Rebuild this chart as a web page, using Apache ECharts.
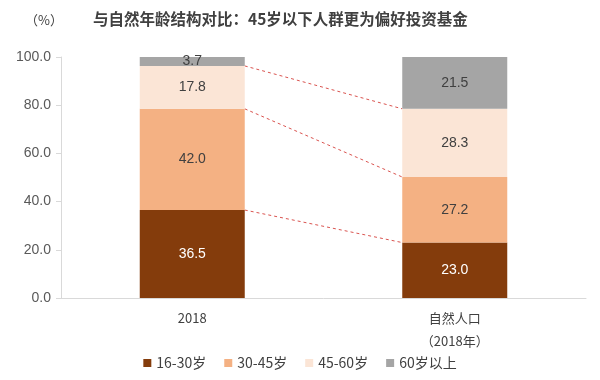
<!DOCTYPE html>
<html><head><meta charset="utf-8">
<script src="https://cdn.jsdelivr.net/npm/echarts@6/dist/echarts.min.js"></script>
<style>html,body{margin:0;padding:0;background:#fff}#c{width:600px;height:380px}</style>
</head><body><div id="c"></div>
<script>
const categories = ['2018', '自然人口\n（2018年）'];
const seriesNames = ['16-30岁', '30-45岁', '45-60岁', '60岁以上'];
const v1630 = [36.5, 23.0];
const v3045 = [42.0, 27.2];
const v4560 = [17.8, 28.3];
const v60p = [3.7, 21.5];
const yTicks = [0, 20, 40, 60, 80, 100];

const colors = ['#843C0C', '#F4B183', '#FBE5D6', '#A5A5A5'];
const labelColors = ['#ffffff', '#404040', '#404040', '#404040'];
const allVals = [v1630, v3045, v4560, v60p];

// cumulative boundaries for connector lines
const cum = [0, 1].map(i => {
  let s = 0; const out = [];
  for (let k = 0; k < 3; k++) { s += allVals[k][i]; out.push(+s.toFixed(1)); }
  return out;
});
const connectors = [0, 1, 2].map(k => [0, cum[0][k], cum[1][k]]);

const chart = echarts.init(document.getElementById('c'));
const font = '"Noto Sans CJK SC", Arial, sans-serif';
const barSeries = seriesNames.map((n, k) => ({
  name: n, type: 'bar', stack: 'a', barWidth: '40%',
  data: allVals[k],
  itemStyle: { color: colors[k] },
  label: { show: true, position: 'inside', color: labelColors[k], fontSize: 14, fontFamily: 'Arial',
    formatter: p => p.value.toFixed(1) },
  emphasis: { disabled: true }
}));
chart.setOption({
  animation: false,
  textStyle: { fontFamily: font },
  title: [
    { text: '与自然年龄结构对比：45岁以下人群更为偏好投资基金', left: 88, top: 6,
      textStyle: { fontSize: 15.5, fontWeight: 'bold', color: '#404040', fontFamily: font } },
    { text: '（%）', left: 20, top: 9, textStyle: { fontSize: 13, fontWeight: 'normal', color: '#404040', fontFamily: font } }
  ],
  grid: { left: 61, right: 14, top: 57, bottom: 82 },
  legend: {
    top: 351, left: 'center', itemWidth: 8, itemHeight: 8, itemGap: 18,
    icon: 'rect', textStyle: { fontSize: 14, color: '#404040', fontFamily: font },
    data: seriesNames
  },
  xAxis: {
    type: 'category', data: categories,
    axisLine: { lineStyle: { color: '#D9D9D9' } },
    axisTick: { show: false },
    axisLabel: { fontSize: 13, color: '#404040', lineHeight: 23, margin: 9, fontFamily: font }
  },
  yAxis: {
    type: 'value', min: 0, max: 100, interval: 20,
    axisLine: { show: true, lineStyle: { color: '#D9D9D9' } },
    axisTick: { show: true, length: 5, lineStyle: { color: '#D9D9D9' } },
    splitLine: { show: false },
    axisLabel: { fontSize: 14, color: '#595959', fontFamily: 'Arial', margin: 10,
      formatter: v => yTicks.includes(v) ? v.toFixed(1) : '' }
  },
  series: barSeries.concat([{
    type: 'custom', silent: true, z: 1,
    data: connectors,
    renderItem: function (params, api) {
      const p1 = api.coord([0, api.value(1)]);
      const p2 = api.coord([1, api.value(2)]);
      const hw = api.size([1, 0])[0] * 0.2;
      return { type: 'line',
        shape: { x1: p1[0] + hw, y1: p1[1], x2: p2[0] - hw, y2: p2[1] },
        style: { stroke: '#D9534F', lineWidth: 1, lineDash: [3, 3] } };
    }
  }])
});
</script></body></html>
